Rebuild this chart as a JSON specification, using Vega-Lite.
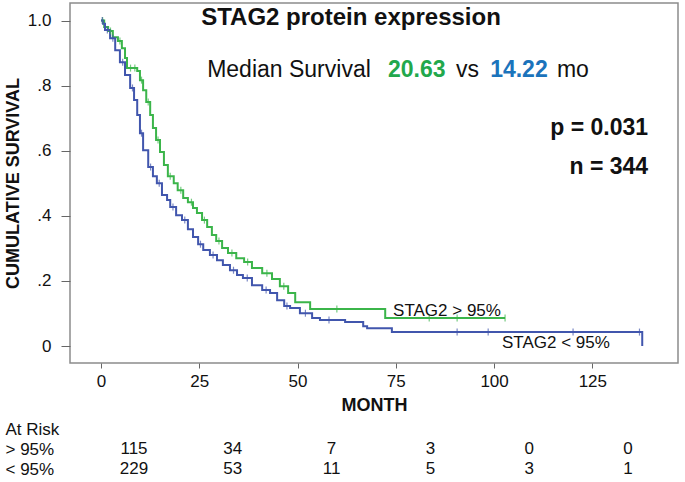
{
  "$schema": "https://vega.github.io/schema/vega-lite/v6.json",
  "width": 608,
  "height": 360,
  "autosize": "none",
  "padding": {"left": 70, "top": 3, "right": 7, "bottom": 119},
  "config": {
    "font": "Liberation Sans",
    "view": {"stroke": "#8c8c8c", "strokeWidth": 1.5},
    "axis": {"labelColor": "#111", "titleColor": "#111", "grid": false, "domain": false}
  },
  "datasets": {
    "km": [
      {"group": "> 95%", "month": 0, "surv": 1.0},
      {"group": "> 95%", "month": 0.8, "surv": 0.98},
      {"group": "> 95%", "month": 1.8, "surv": 0.968},
      {"group": "> 95%", "month": 3.0, "surv": 0.949},
      {"group": "> 95%", "month": 4.3, "surv": 0.937},
      {"group": "> 95%", "month": 5.3, "surv": 0.915},
      {"group": "> 95%", "month": 6.1, "surv": 0.885},
      {"group": "> 95%", "month": 6.6, "surv": 0.854},
      {"group": "> 95%", "month": 9.2, "surv": 0.845},
      {"group": "> 95%", "month": 9.9, "surv": 0.817},
      {"group": "> 95%", "month": 10.7, "surv": 0.786},
      {"group": "> 95%", "month": 11.5, "surv": 0.75},
      {"group": "> 95%", "month": 12.5, "surv": 0.71},
      {"group": "> 95%", "month": 13.2, "surv": 0.67},
      {"group": "> 95%", "month": 14.0, "surv": 0.633},
      {"group": "> 95%", "month": 15.0, "surv": 0.596},
      {"group": "> 95%", "month": 16.0, "surv": 0.556},
      {"group": "> 95%", "month": 17.0, "surv": 0.522},
      {"group": "> 95%", "month": 18.5, "surv": 0.5},
      {"group": "> 95%", "month": 19.5, "surv": 0.479},
      {"group": "> 95%", "month": 20.9, "surv": 0.455},
      {"group": "> 95%", "month": 22.1, "surv": 0.442},
      {"group": "> 95%", "month": 23.4, "surv": 0.424},
      {"group": "> 95%", "month": 24.4, "surv": 0.409},
      {"group": "> 95%", "month": 25.7, "surv": 0.387},
      {"group": "> 95%", "month": 27.0, "surv": 0.366},
      {"group": "> 95%", "month": 28.2, "surv": 0.341},
      {"group": "> 95%", "month": 29.3, "surv": 0.323},
      {"group": "> 95%", "month": 30.8, "surv": 0.301},
      {"group": "> 95%", "month": 32.3, "surv": 0.286},
      {"group": "> 95%", "month": 34.4, "surv": 0.27},
      {"group": "> 95%", "month": 36.4, "surv": 0.258},
      {"group": "> 95%", "month": 38.4, "surv": 0.24},
      {"group": "> 95%", "month": 41.0, "surv": 0.224},
      {"group": "> 95%", "month": 43.5, "surv": 0.206},
      {"group": "> 95%", "month": 45.5, "surv": 0.184},
      {"group": "> 95%", "month": 47.6, "surv": 0.163},
      {"group": "> 95%", "month": 49.4, "surv": 0.135},
      {"group": "> 95%", "month": 53.2, "surv": 0.114},
      {"group": "> 95%", "month": 72.3, "surv": 0.086},
      {"group": "> 95%", "month": 102.8, "surv": 0.086},
      {"group": "< 95%", "month": 0, "surv": 1.0},
      {"group": "< 95%", "month": 0.5, "surv": 0.99},
      {"group": "< 95%", "month": 1.0, "surv": 0.971},
      {"group": "< 95%", "month": 2.3, "surv": 0.946},
      {"group": "< 95%", "month": 3.6, "surv": 0.909},
      {"group": "< 95%", "month": 4.8, "surv": 0.872},
      {"group": "< 95%", "month": 6.1, "surv": 0.833},
      {"group": "< 95%", "month": 7.4, "surv": 0.793},
      {"group": "< 95%", "month": 8.4, "surv": 0.756},
      {"group": "< 95%", "month": 9.2, "surv": 0.71},
      {"group": "< 95%", "month": 9.9, "surv": 0.654},
      {"group": "< 95%", "month": 10.7, "surv": 0.602},
      {"group": "< 95%", "month": 12.0, "surv": 0.55},
      {"group": "< 95%", "month": 13.2, "surv": 0.522},
      {"group": "< 95%", "month": 14.2, "surv": 0.5},
      {"group": "< 95%", "month": 15.5, "surv": 0.464},
      {"group": "< 95%", "month": 16.8, "surv": 0.449},
      {"group": "< 95%", "month": 17.6, "surv": 0.427},
      {"group": "< 95%", "month": 19.1, "surv": 0.402},
      {"group": "< 95%", "month": 20.6, "surv": 0.387},
      {"group": "< 95%", "month": 22.1, "surv": 0.359},
      {"group": "< 95%", "month": 23.4, "surv": 0.335},
      {"group": "< 95%", "month": 24.7, "surv": 0.313},
      {"group": "< 95%", "month": 26.0, "surv": 0.295},
      {"group": "< 95%", "month": 27.7, "surv": 0.28},
      {"group": "< 95%", "month": 29.5, "surv": 0.264},
      {"group": "< 95%", "month": 31.0, "surv": 0.249},
      {"group": "< 95%", "month": 32.8, "surv": 0.233},
      {"group": "< 95%", "month": 34.6, "surv": 0.218},
      {"group": "< 95%", "month": 36.1, "surv": 0.209},
      {"group": "< 95%", "month": 38.4, "surv": 0.187},
      {"group": "< 95%", "month": 41.0, "surv": 0.172},
      {"group": "< 95%", "month": 43.0, "surv": 0.163},
      {"group": "< 95%", "month": 44.8, "surv": 0.141},
      {"group": "< 95%", "month": 46.6, "surv": 0.123},
      {"group": "< 95%", "month": 48.1, "surv": 0.117},
      {"group": "< 95%", "month": 50.6, "surv": 0.101},
      {"group": "< 95%", "month": 53.7, "surv": 0.086},
      {"group": "< 95%", "month": 55.7, "surv": 0.08},
      {"group": "< 95%", "month": 62.1, "surv": 0.074},
      {"group": "< 95%", "month": 66.7, "surv": 0.061},
      {"group": "< 95%", "month": 67.7, "surv": 0.055},
      {"group": "< 95%", "month": 74.0, "surv": 0.043},
      {"group": "< 95%", "month": 137.7, "surv": 0.0}
    ],
    "censor": [
      {"group": "> 95%", "month": 0.4, "surv": 1.0},
      {"group": "> 95%", "month": 2.4, "surv": 0.968},
      {"group": "> 95%", "month": 4.8, "surv": 0.937},
      {"group": "> 95%", "month": 7.5, "surv": 0.854},
      {"group": "> 95%", "month": 8.6, "surv": 0.854},
      {"group": "> 95%", "month": 10.3, "surv": 0.817},
      {"group": "> 95%", "month": 12.0, "surv": 0.75},
      {"group": "> 95%", "month": 14.5, "surv": 0.633},
      {"group": "> 95%", "month": 17.6, "surv": 0.522},
      {"group": "> 95%", "month": 20.3, "surv": 0.479},
      {"group": "> 95%", "month": 23.0, "surv": 0.442},
      {"group": "> 95%", "month": 26.3, "surv": 0.387},
      {"group": "> 95%", "month": 30.0, "surv": 0.323},
      {"group": "> 95%", "month": 33.3, "surv": 0.286},
      {"group": "> 95%", "month": 37.3, "surv": 0.258},
      {"group": "> 95%", "month": 42.2, "surv": 0.224},
      {"group": "> 95%", "month": 46.5, "surv": 0.184},
      {"group": "> 95%", "month": 60.0, "surv": 0.114},
      {"group": "> 95%", "month": 83.5, "surv": 0.086},
      {"group": "> 95%", "month": 90.6, "surv": 0.086},
      {"group": "> 95%", "month": 102.8, "surv": 0.086},
      {"group": "< 95%", "month": 0.3, "surv": 1.0},
      {"group": "< 95%", "month": 1.6, "surv": 0.971},
      {"group": "< 95%", "month": 3.0, "surv": 0.946},
      {"group": "< 95%", "month": 5.5, "surv": 0.872},
      {"group": "< 95%", "month": 8.0, "surv": 0.793},
      {"group": "< 95%", "month": 10.3, "surv": 0.654},
      {"group": "< 95%", "month": 12.6, "surv": 0.55},
      {"group": "< 95%", "month": 14.8, "surv": 0.5},
      {"group": "< 95%", "month": 18.3, "surv": 0.427},
      {"group": "< 95%", "month": 21.3, "surv": 0.387},
      {"group": "< 95%", "month": 25.3, "surv": 0.313},
      {"group": "< 95%", "month": 28.5, "surv": 0.28},
      {"group": "< 95%", "month": 33.7, "surv": 0.233},
      {"group": "< 95%", "month": 37.2, "surv": 0.209},
      {"group": "< 95%", "month": 42.0, "surv": 0.172},
      {"group": "< 95%", "month": 47.3, "surv": 0.123},
      {"group": "< 95%", "month": 52.0, "surv": 0.101},
      {"group": "< 95%", "month": 58.0, "surv": 0.08},
      {"group": "< 95%", "month": 90.6, "surv": 0.043},
      {"group": "< 95%", "month": 98.5, "surv": 0.043},
      {"group": "< 95%", "month": 120.1, "surv": 0.043},
      {"group": "< 95%", "month": 137.0, "surv": 0.043}
    ],
    "risk": [
      {"row": "> 95%", "month": 0, "n": 115},
      {"row": "> 95%", "month": 25, "n": 34},
      {"row": "> 95%", "month": 50, "n": 7},
      {"row": "> 95%", "month": 75, "n": 3},
      {"row": "> 95%", "month": 100, "n": 0},
      {"row": "> 95%", "month": 125, "n": 0},
      {"row": "< 95%", "month": 0, "n": 229},
      {"row": "< 95%", "month": 25, "n": 53},
      {"row": "< 95%", "month": 50, "n": 11},
      {"row": "< 95%", "month": 75, "n": 5},
      {"row": "< 95%", "month": 100, "n": 3},
      {"row": "< 95%", "month": 125, "n": 1}
    ]
  },
  "layer": [
    {
      "layer": [
        {
          "data": {"name": "km"},
          "mark": {"type": "line", "interpolate": "step-after", "strokeWidth": 2},
          "encoding": {
            "x": {
              "field": "month", "type": "quantitative",
              "scale": {"domain": [-7.9, 146.8], "nice": false, "zero": false},
              "axis": {
                "values": [0, 25, 50, 75, 100, 125],
                "title": "MONTH", "titleFontSize": 18, "titleFontWeight": "bold", "titlePadding": 7,
                "labelFontSize": 17, "tickSize": 5, "tickColor": "#666", "labelPadding": 5
              }
            },
            "y": {
              "field": "surv", "type": "quantitative",
              "scale": {"domain": [-0.052, 1.054], "nice": false, "zero": false},
              "axis": {
                "values": [0, 0.2, 0.4, 0.6, 0.8, 1.0],
                "labelExpr": "datum.value == 1 ? '1.0' : datum.value == 0 ? '0' : replace(format(datum.value, '.1f'), '0.', '.')",
                "title": "CUMULATIVE SURVIVAL", "titleFontSize": 18, "titleFontWeight": "bold", "titlePadding": 5,
                "labelFontSize": 17, "tickSize": 9, "tickColor": "#666", "labelPadding": 10
              }
            },
            "color": {
              "field": "group", "type": "nominal",
              "scale": {"domain": ["> 95%", "< 95%"], "range": ["#3bb54a", "#4156ad"]},
              "legend": null
            },
            "detail": {"field": "group"}
          }
        },
        {
          "data": {"name": "censor"},
          "mark": {"type": "tick", "orient": "vertical", "size": 7, "thickness": 1.2},
          "encoding": {
            "x": {"field": "month", "type": "quantitative"},
            "y": {"field": "surv", "type": "quantitative"},
            "color": {"field": "group", "type": "nominal"}
          }
        },
        {
          "data": {"values": [{"t": "STAG2 protein expression"}]},
          "mark": {"type": "text", "fontSize": 24, "fontWeight": "bold", "align": "center", "baseline": "middle", "color": "#111"},
          "encoding": {"x": {"datum": 63.6, "type": "quantitative"}, "y": {"datum": 1.008, "type": "quantitative"}, "text": {"field": "t"}}
        },
        {
          "data": {"values": [{"t": "Median Survival"}]},
          "mark": {"type": "text", "fontSize": 23, "align": "left", "baseline": "middle", "color": "#111"},
          "encoding": {"x": {"datum": 27.0, "type": "quantitative"}, "y": {"datum": 0.848, "type": "quantitative"}, "text": {"field": "t"}}
        },
        {
          "data": {"values": [{"t": "20.63"}]},
          "mark": {"type": "text", "fontSize": 23, "fontWeight": "bold", "align": "left", "baseline": "middle", "color": "#22a84c"},
          "encoding": {"x": {"datum": 73.0, "type": "quantitative"}, "y": {"datum": 0.848, "type": "quantitative"}, "text": {"field": "t"}}
        },
        {
          "data": {"values": [{"t": "vs"}]},
          "mark": {"type": "text", "fontSize": 23, "align": "left", "baseline": "middle", "color": "#111"},
          "encoding": {"x": {"datum": 90.3, "type": "quantitative"}, "y": {"datum": 0.848, "type": "quantitative"}, "text": {"field": "t"}}
        },
        {
          "data": {"values": [{"t": "14.22"}]},
          "mark": {"type": "text", "fontSize": 23, "fontWeight": "bold", "align": "left", "baseline": "middle", "color": "#1b73bb"},
          "encoding": {"x": {"datum": 99.0, "type": "quantitative"}, "y": {"datum": 0.848, "type": "quantitative"}, "text": {"field": "t"}}
        },
        {
          "data": {"values": [{"t": "mo"}]},
          "mark": {"type": "text", "fontSize": 23, "align": "left", "baseline": "middle", "color": "#111"},
          "encoding": {"x": {"datum": 116.0, "type": "quantitative"}, "y": {"datum": 0.848, "type": "quantitative"}, "text": {"field": "t"}}
        },
        {
          "data": {"values": [{"t": "p = 0.031"}]},
          "mark": {"type": "text", "fontSize": 23, "fontWeight": "bold", "align": "right", "baseline": "middle", "color": "#111"},
          "encoding": {"x": {"datum": 139.2, "type": "quantitative"}, "y": {"datum": 0.67, "type": "quantitative"}, "text": {"field": "t"}}
        },
        {
          "data": {"values": [{"t": "n = 344"}]},
          "mark": {"type": "text", "fontSize": 23, "fontWeight": "bold", "align": "right", "baseline": "middle", "color": "#111"},
          "encoding": {"x": {"datum": 139.2, "type": "quantitative"}, "y": {"datum": 0.55, "type": "quantitative"}, "text": {"field": "t"}}
        },
        {
          "data": {"values": [{"t": "STAG2 > 95%"}]},
          "mark": {"type": "text", "fontSize": 17, "align": "left", "baseline": "middle", "color": "#111"},
          "encoding": {"x": {"datum": 74.3, "type": "quantitative"}, "y": {"datum": 0.108, "type": "quantitative"}, "text": {"field": "t"}}
        },
        {
          "data": {"values": [{"t": "STAG2 < 95%"}]},
          "mark": {"type": "text", "fontSize": 17, "align": "left", "baseline": "middle", "color": "#111"},
          "encoding": {"x": {"datum": 102.0, "type": "quantitative"}, "y": {"datum": 0.009, "type": "quantitative"}, "text": {"field": "t"}}
        }
      ]
    },
    {
      "data": {"name": "risk"},
      "mark": {"type": "text", "fontSize": 17, "align": "center", "baseline": "middle", "color": "#111"},
      "encoding": {
        "x": {"field": "month", "type": "quantitative", "scale": {"domain": [0, 125], "range": [64, 558]}, "axis": null},
        "y": {
          "field": "row", "type": "ordinal",
          "scale": {"type": "point", "domain": ["At Risk", "> 95%", "< 95%"], "range": [426, 466], "padding": 0},
          "axis": {"orient": "left", "title": null, "ticks": false, "tickSize": 0, "domain": false, "labelPadding": 65, "labelAlign": "left", "labelBaseline": "middle", "labelFontSize": 17}
        },
        "text": {"field": "n", "type": "quantitative"}
      }
    }
  ],
  "resolve": {"scale": {"x": "independent", "y": "independent", "color": "independent"}, "axis": {"x": "independent", "y": "independent"}}
}
